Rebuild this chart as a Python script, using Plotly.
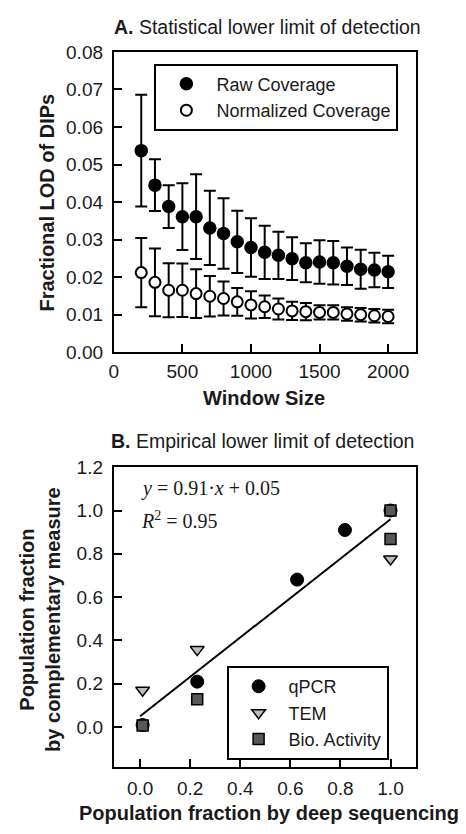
import plotly.graph_objects as go

# ---------------- data ----------------
window_size = [200, 300, 400, 500, 600, 700, 800, 900, 1000, 1100,
               1200, 1300, 1400, 1500, 1600, 1700, 1800, 1900, 2000]
raw_lod = [0.0537, 0.0445, 0.0388, 0.0361, 0.0361, 0.0331, 0.0316, 0.0294, 0.0279, 0.0266,
           0.0258, 0.0249, 0.0238, 0.0240, 0.0238, 0.0229, 0.0221, 0.0219, 0.0214]
raw_err = [0.0149, 0.0069, 0.0057, 0.0089, 0.0113, 0.0099, 0.0094, 0.0083, 0.0078, 0.0071,
           0.0063, 0.0057, 0.0052, 0.0058, 0.0058, 0.0050, 0.0052, 0.0046, 0.0043]
norm_lod = [0.0212, 0.0186, 0.0165, 0.0165, 0.0156, 0.0149, 0.0143, 0.0134, 0.0126, 0.0121,
            0.0115, 0.0110, 0.0108, 0.0106, 0.0106, 0.0102, 0.0100, 0.0097, 0.0095]
norm_err = [0.0092, 0.0090, 0.0072, 0.0071, 0.0065, 0.0054, 0.0045, 0.0037, 0.0036, 0.0030,
            0.0028, 0.0024, 0.0023, 0.0019, 0.0019, 0.0018, 0.0018, 0.0018, 0.0018]

qpcr_x = [0.01, 0.228, 0.627, 0.818, 1.0]
qpcr_y = [0.01, 0.21, 0.681, 0.91, 1.0]
tem_x = [0.01, 0.228, 1.0]
tem_y = [0.17, 0.358, 0.776]
bio_x = [0.01, 0.228, 1.0, 1.0]
bio_y = [0.008, 0.129, 1.0, 0.869]

fit_slope = 0.91
fit_intercept = 0.05
fit_x = [0.0, 1.0]
fit_y = [fit_slope * v + fit_intercept for v in fit_x]

# ---------------- figure ----------------
W, H = 466, 834
FONT = "Liberation Sans, Arial, sans-serif"
SERIF = "Liberation Serif, Times New Roman, serif"
TXT = "#1a1a1a"

def px_x(p):
    return p / W

def px_y(p):
    return 1 - p / H

fig = go.Figure()

# Panel A
fig.add_trace(go.Scatter(
    x=window_size, y=raw_lod, mode="markers", name="Raw Coverage",
    marker=dict(symbol="circle", size=12, color="black", line=dict(color="black", width=1.5)),
    error_y=dict(type="data", array=raw_err, visible=True, color="black", thickness=2, width=6),
    xaxis="x", yaxis="y", legend="legend"))
fig.add_trace(go.Scatter(
    x=window_size, y=norm_lod, mode="markers", name="Normalized Coverage",
    marker=dict(symbol="circle", size=11, color="white", line=dict(color="black", width=2)),
    error_y=dict(type="data", array=norm_err, visible=True, color="black", thickness=2, width=6),
    xaxis="x", yaxis="y", legend="legend"))

# Panel B
fig.add_trace(go.Scatter(
    x=fit_x, y=fit_y, mode="lines", line=dict(color="black", width=2),
    showlegend=False, xaxis="x2", yaxis="y2", hoverinfo="skip"))
fig.add_trace(go.Scatter(
    x=qpcr_x, y=qpcr_y, mode="markers", name="qPCR",
    marker=dict(symbol="circle", size=13, color="black", line=dict(color="black", width=1)),
    xaxis="x2", yaxis="y2", legend="legend2"))
fig.add_trace(go.Scatter(
    x=tem_x, y=tem_y, mode="markers", name="TEM",
    marker=dict(symbol="triangle-down", size=12, color="#bdbdbd", line=dict(color="black", width=1.5)),
    xaxis="x2", yaxis="y2", legend="legend2"))
fig.add_trace(go.Scatter(
    x=bio_x, y=bio_y, mode="markers", name="Bio. Activity",
    marker=dict(symbol="square", size=11, color="#585858", line=dict(color="black", width=1.5)),
    xaxis="x2", yaxis="y2", legend="legend2"))

axis_common = dict(
    showline=True, linecolor="black", linewidth=2, mirror=True,
    ticks="inside", ticklen=8, tickwidth=2, tickcolor="black",
    showgrid=False, zeroline=False,
    tickfont=dict(family=FONT, size=19, color=TXT),
)

fig.update_layout(
    width=W, height=H,
    margin=dict(l=0, r=0, t=0, b=0),
    paper_bgcolor="white", plot_bgcolor="white",
    font=dict(family=FONT, color=TXT),
    xaxis=dict(domain=[px_x(110), px_x(415)], anchor="y", range=[0, 2200],
               tickvals=[0, 500, 1000, 1500, 2000], ticklabelstandoff=1, **axis_common),
    yaxis=dict(domain=[px_y(351), px_y(43)], anchor="x", range=[0, 0.08],
               tickvals=[0, 0.01, 0.02, 0.03, 0.04, 0.05, 0.06, 0.07, 0.08],
               tickformat=".2f", ticklabelstandoff=5, **axis_common),
    xaxis2=dict(domain=[px_x(110), px_x(415)], anchor="y2", range=[-0.105, 1.1],
                tickvals=[0, 0.2, 0.4, 0.6, 0.8, 1.0], tickformat=".1f",
                ticklabelstandoff=3, **axis_common),
    yaxis2=dict(domain=[px_y(777), px_y(469)], anchor="x2", range=[-0.186, 1.2],
                tickvals=[0, 0.2, 0.4, 0.6, 0.8, 1.0, 1.2], tickformat=".1f",
                ticklabelstandoff=5, **axis_common),
    legend=dict(x=px_x(151), y=px_y(55), xanchor="left", yanchor="top",
                bordercolor="black", borderwidth=2, bgcolor="white",
                font=dict(family=FONT, size=18, color=TXT), itemwidth=50),
    legend2=dict(x=px_x(224), y=px_y(673), xanchor="left", yanchor="top",
                 bordercolor="black", borderwidth=2, bgcolor="white",
                 font=dict(family=FONT, size=18, color=TXT), itemwidth=50),
    showlegend=True,
)

annotations = [
    dict(text="<b>A.</b> Statistical lower limit of detection", x=px_x(265), y=px_y(17),
         font=dict(size=19.5, family=FONT, color=TXT)),
    dict(text="<b>B.</b> Empirical lower limit of detection", x=px_x(260), y=px_y(442),
         font=dict(size=19.5, family=FONT, color=TXT)),
    dict(text="<b>Fractional LOD of DIPs</b>", x=px_x(42), y=px_y(198), textangle=-90,
         font=dict(size=20, family=FONT, color=TXT)),
    dict(text="<b>Window Size</b>", x=px_x(262), y=px_y(398),
         font=dict(size=20, family=FONT, color=TXT)),
    dict(text="<b>Population fraction by deep sequencing</b>", x=px_x(267), y=px_y(824),
         font=dict(size=20, family=FONT, color=TXT)),
    dict(text="<b>Population fraction<br>by complementary measure</b>", x=px_x(36), y=px_y(625),
         textangle=-90, font=dict(size=20, family=FONT, color=TXT)),
    dict(text="<i>y</i> = 0.91\u00b7<i>x</i> + 0.05", x=px_x(135), y=px_y(491), xanchor="left",
         font=dict(size=20, family=SERIF, color=TXT)),
    dict(text="<i>R</i><sup>2</sup> = 0.95", x=px_x(135), y=px_y(523), xanchor="left",
         font=dict(size=20, family=SERIF, color=TXT)),
]
for a in annotations:
    a.setdefault("xanchor", "center")
    a.update(xref="paper", yref="paper", showarrow=False, yanchor="middle")
fig.update_layout(annotations=annotations)

fig.write_html("out.html")
